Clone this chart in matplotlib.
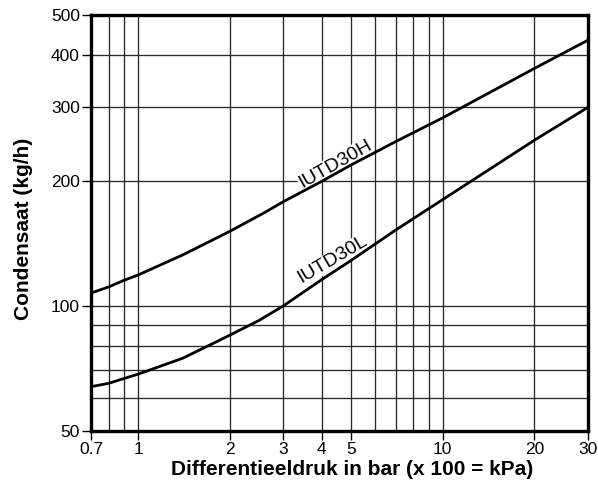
import matplotlib
matplotlib.use("Agg")
import matplotlib.pyplot as plt
from matplotlib.ticker import FixedLocator, FixedFormatter, NullFormatter

plt.rcParams['font.family'] = ['Liberation Sans', 'DejaVu Sans']

# Data
pressure_h = [0.7, 0.8, 0.9, 1, 1.4, 2, 2.6, 3, 4, 5, 7, 10, 20, 30]
iutd30h = [107.3, 111, 115.2, 118.6, 132.5, 151, 167.5, 178, 199, 218, 248, 283, 372, 435]
pressure_l = [0.7, 0.8, 0.9, 1, 1.4, 1.75, 2, 2.5, 3, 4, 5, 7, 10, 20, 30]
iutd30l = [63.9, 65.1, 66.9, 68.5, 74.8, 81, 85, 92.3, 100, 115.5, 128.5, 152, 180, 250, 300]

x_major = [0.7, 1, 2, 3, 4, 5, 10, 20, 30]
x_major_labels = ["0.7", "1", "2", "3", "4", "5", "10", "20", "30"]
x_minor = [0.8, 0.9, 6, 7, 8, 9]
y_major = [50, 100, 200, 300, 400, 500]
y_major_labels = ["50", "100", "200", "300", "400", "500"]
y_minor = [60, 70, 80, 90]

fig = plt.figure(figsize=(5.98, 4.90), dpi=100)
ax = fig.add_axes([0.1522, 0.1204, 0.8311, 0.849])

ax.set_xscale('log')
ax.set_yscale('log')
ax.set_xlim(0.7, 30)
ax.set_ylim(50, 500)

ax.xaxis.set_major_locator(FixedLocator(x_major))
ax.xaxis.set_major_formatter(FixedFormatter(x_major_labels))
ax.xaxis.set_minor_locator(FixedLocator(x_minor))
ax.xaxis.set_minor_formatter(NullFormatter())
ax.yaxis.set_major_locator(FixedLocator(y_major))
ax.yaxis.set_major_formatter(FixedFormatter(y_major_labels))
ax.yaxis.set_minor_locator(FixedLocator(y_minor))
ax.yaxis.set_minor_formatter(NullFormatter())

ax.tick_params(which='major', direction='out', length=6.5, width=1.0,
               labelsize=12.5, color='black', labelcolor='black', pad=1.5)
ax.tick_params(which='minor', length=0)

ax.grid(True, which='both', color='#2a2a2a', linewidth=0.95)
ax.set_axisbelow(True)

for s in ax.spines.values():
    s.set_linewidth(2.4)
    s.set_color('black')
    s.set_zorder(5)

ax.plot(pressure_h, iutd30h, color='black', linewidth=2.0, zorder=3)
ax.plot(pressure_l, iutd30l, color='black', linewidth=2.0, zorder=3)

bbox = dict(facecolor='white', edgecolor='none', pad=0.3)
ax.text(4.43, 219, "IUTD30H", rotation=29.5, fontsize=14, ha='center', va='center',
        bbox=bbox, zorder=2.5, rotation_mode='anchor')
ax.text(4.35, 129, "IUTD30L", rotation=30.5, fontsize=14, ha='center', va='center',
        bbox=bbox, zorder=2.5, rotation_mode='anchor')

ax.set_xlabel("Differentieeldruk in bar (x 100 = kPa)", fontsize=15, fontweight='bold')
ax.set_ylabel("Condensaat (kg/h)", fontsize=15, fontweight='bold')
ax.xaxis.set_label_coords(0.525, -0.07)
ax.yaxis.set_label_coords(-0.117, 0.486)

fig.savefig("out.png", dpi=100)
